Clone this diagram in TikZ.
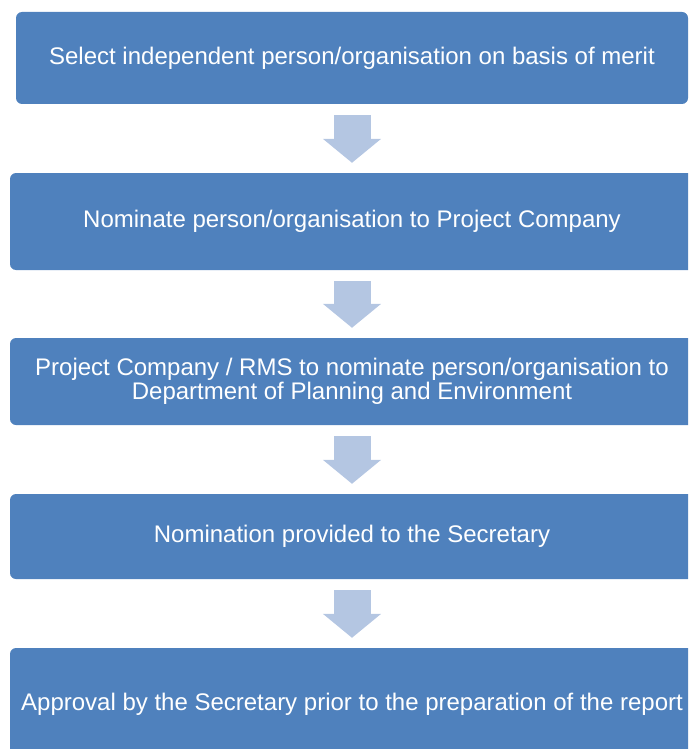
\documentclass[tikz,border=0pt]{standalone}
\usepackage{fontspec}
\setmainfont{Liberation Sans}
\usepackage{xcolor}
\usepackage{tikz}
\usetikzlibrary{arrows.meta}
\definecolor{Box-A}{RGB}{79,129,189}
\definecolor{Arrow-A}{RGB}{180,198,226}
\tikzstyle{s}=[rectangle,rounded corners=6pt,fill=Box-A,draw=none,text=white,align=center,inner sep=0pt,font=\fontsize{24}{24.5}\selectfont]
\tikzstyle{e}=[draw=Arrow-A,line width=37pt,shorten <=11pt,shorten >=10pt,arrows={-{Triangle[length=24pt,width=57pt,fill=Arrow-A]}}]

\begin{document}
\begin{tikzpicture}[x=1pt,y=-1pt]
\path[use as bounding box,clip] (0,0) rectangle (688,749);

% Steps
\node[s,minimum width=672pt,minimum height=92pt]  (select)   at (352,58)    {Select independent person/organisation on basis of merit};
\node[s,minimum width=684pt,minimum height=97pt]  (nominate) at (352,221.5) {Nominate person/organisation to Project Company};
\node[s,minimum width=684pt,minimum height=87pt]  (rms)      at (352,381.5) {Project Company / RMS to nominate person/organisation to\\Department of Planning and Environment};
\node[s,minimum width=684pt,minimum height=85pt]  (provided) at (352,536.5) {Nomination provided to the Secretary};
\node[s,minimum width=684pt,minimum height=112pt] (approval) at (352,704)   {Approval by the Secretary prior to the preparation of the report};

% Arrows
\draw[e] (select)   -- (nominate);
\draw[e] (nominate) -- (rms);
\draw[e] (rms)      -- (provided);
\draw[e] (provided) -- (approval);

\end{tikzpicture}
\end{document}
